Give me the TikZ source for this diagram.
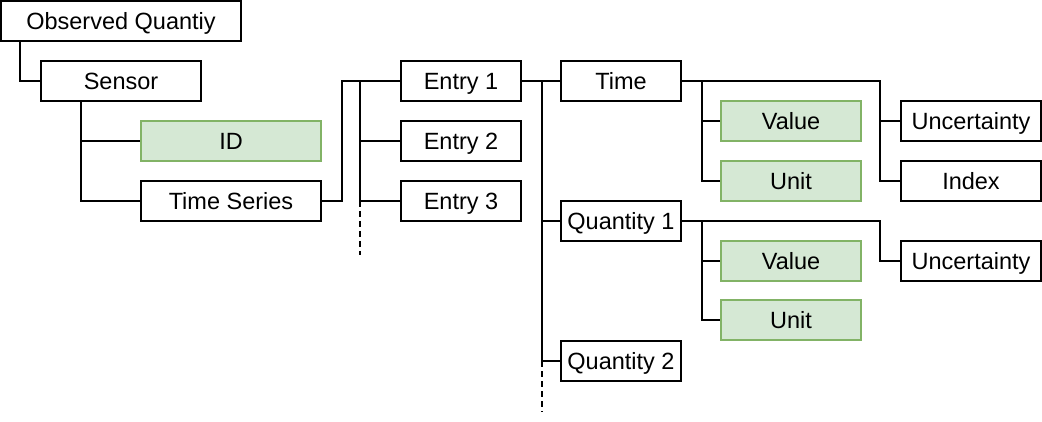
\documentclass[tikz,border=0pt]{standalone}
\usepackage{fontspec}
\setmainfont{Liberation Sans}
\usepackage{tikz}
\usetikzlibrary{positioning, calc}
\definecolor{leafgreen}{HTML}{D5E8D4}
\definecolor{leafborder}{HTML}{82B366}

\tikzset{
  item/.style={draw=black, line width=2pt, fill=white, minimum height=40pt, inner sep=0pt,
               text height=16.8pt, text depth=0pt,
               font=\fontsize{23.5}{28}\selectfont},
  leaf/.style={item, draw=leafborder, fill=leafgreen},
  link/.style={line width=2pt, draw=black},
  more/.style={link, dash pattern=on 6pt off 4pt}
}

\begin{document}
\begin{tikzpicture}[x=1pt, y=-1pt]
            \useasboundingbox (0,0) rectangle (1042,422);
            % sensor part
            \node[item, minimum width=240pt] (obs) at (121,21) {Observed Quantiy};
            \node[item, minimum width=160pt] (sensor) at (121,81) {Sensor};
            \node[leaf, minimum width=180pt] (id) at (231,141) {ID};
            \node[item, minimum width=180pt] (ts) at (231,201) {Time Series};
            % entries
            \node[item, minimum width=120pt] (e1) at (461,81) {Entry 1};
            \node[item, minimum width=120pt] (e2) at (461,141) {Entry 2};
            \node[item, minimum width=120pt] (e3) at (461,201) {Entry 3};
            % content of one entry
            \node[item, minimum width=120pt] (time) at (621,81) {Time};
            \node[item, minimum width=120pt] (q1) at (621,221) {Quantity 1};
            \node[item, minimum width=120pt] (q2) at (621,361) {Quantity 2};
            \node[leaf, minimum width=140pt] (tval) at (791,121) {Value};
            \node[leaf, minimum width=140pt] (tunit) at (791,181) {Unit};
            \node[leaf, minimum width=140pt] (qval) at (791,261) {Value};
            \node[leaf, minimum width=140pt] (qunit) at (791,320) {Unit};
            \node[item, minimum width=140pt] (tunc) at (971,121) {Uncertainty};
            \node[item, minimum width=140pt] (tidx) at (971,181) {Index};
            \node[item, minimum width=140pt] (qunc) at (971,261) {Uncertainty};

            \draw[link] ([xshift=20pt]obs.south west) |- (sensor.west);
            \draw[link] ([xshift=-40pt]sensor.south) |- (id.west);
            \draw[link] ([xshift=-40pt]sensor.south) |- (ts.west);
            \draw[link] (ts.east) -- ++(20,0) |- (e1.west);
            \coordinate (ebus) at ([xshift=-40pt]e1.west);
            \draw[link] (ebus) |- (e2.west);
            \draw[link] (ebus) |- (e3.west);
            \draw[more] (ebus |- e3.west) -- ++(0,54);
            \draw[link] (e1.east) -- (time.west);
            \coordinate (qbus) at ([xshift=20pt]e1.east);
            \draw[link] (qbus) |- (q1.west);
            \draw[link] (qbus) |- (q2.west);
            \draw[more] (qbus |- q2.west) -- ++(0,51);
            \draw[link] ([xshift=20pt]time.east) |- (tval.west);
            \draw[link] ([xshift=20pt]time.east) |- (tunit.west);
            \draw[link] (time.east) -| ([xshift=-20pt]tidx.west) -- (tidx.west);
            \draw[link] ([xshift=-20pt]tunc.west) -- (tunc.west);
            \draw[link] ([xshift=20pt]q1.east) |- (qval.west);
            \draw[link] ([xshift=20pt]q1.east) |- (qunit.west);
            \draw[link] (q1.east) -| ([xshift=-20pt]qunc.west) -- (qunc.west);
\end{tikzpicture}
\end{document}
